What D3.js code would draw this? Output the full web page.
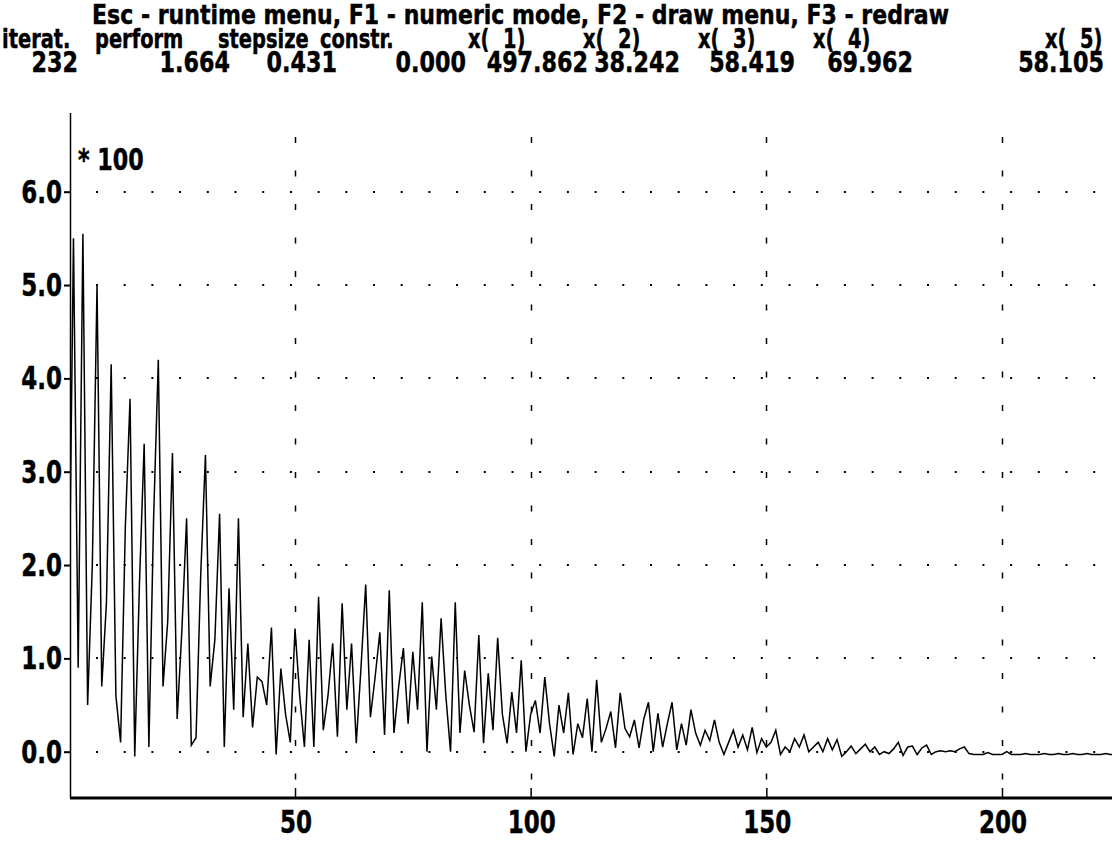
<!DOCTYPE html>
<html lang='en'>
  <head>
    <meta charset='utf-8'>
    <title>Optimization run - perform</title>
    <script src='https://d3js.org/d3.v7.min.js'></script>
    <style>
      html, body {
        margin: 0;
        padding: 0;
        background: #fff;
      }
      svg text {
        font-family: 'DejaVu Sans', 'Liberation Sans', sans-serif;
        font-weight: bold;
        fill: #000;
        stroke: #000;
        stroke-width: 0.5;
      }
    </style>
  </head>
  <body>
    <div class='vis'></div>

    <script>
      // header (status lines of the program)
      const menuLine = 'Esc - runtime menu, F1 - numeric mode, F2 - draw menu, F3 - redraw';
      const headLabels = ['iterat.', 'perform', 'stepsize', 'constr.', 'x(  1)', 'x(  2)', 'x(  3)', 'x(  4)', 'x(  5)'];
      const headValues = ['232', '1.664', '0.431', '0.000', '497.862', '38.242', '58.419', '69.962', '58.105'];

      // axis ticks
      const yTicks = [0, 1, 2, 3, 4, 5, 6];
      const xTicks = [50, 100, 150, 200];
      const yFactor = '* 100';

      // performance value per iteration (scaled by 1/100), starting at iteration 2
      const firstIteration = 2;
      const perform = [
        1.2, 5.5, 0.9, 5.55, 0.5, 2.0, 5.0, 0.7, 1.6, 4.15,
        0.6, 0.1, 2.4, 3.78, -0.05, 1.8, 3.3, 0.05, 2.5, 4.2,
        0.7, 1.4, 3.2, 0.35, 1.3, 2.5, 0.07, 0.15, 1.9, 3.18,
        0.7, 1.2, 2.55, 0.05, 1.75, 0.45, 2.5, 0.37, 1.16, 0.26,
        0.8, 0.75, 0.5, 1.33, -0.03, 0.89, 0.4, 0.1, 1.32, 0.6,
        0.05, 1.2, 0.05, 1.66, 0.23, 0.6, 1.16, 0.16, 1.59, 0.45,
        1.16, 0.09, 0.9, 1.79, 0.37, 0.8, 1.28, 0.18, 1.73, 0.2,
        0.7, 1.11, 0.3, 1.07, 0.45, 1.6, 0.0, 1.02, 0.45, 1.43,
        0.6, 0.0, 1.6, 0.2, 0.87, 0.5, 0.21, 1.25, 0.09, 0.84,
        0.23, 1.22, 0.4, 0.09, 0.64, 0.2, 0.98, 0.0, 0.4, 0.55,
        0.2, 0.8, 0.3, -0.05, 0.5, 0.2, 0.63, -0.03, 0.3, 0.15,
        0.57, 0.0, 0.77, 0.1, 0.25, 0.43, 0.04, 0.63, 0.25, 0.16,
        0.34, 0.04, 0.35, 0.53, 0.0, 0.41, 0.05, 0.3, 0.53, 0.02,
        0.3, 0.07, 0.45, 0.2, 0.07, 0.23, 0.12, 0.34, 0.1, -0.03,
        0.1, 0.23, 0.05, 0.18, 0.02, 0.26, -0.01, 0.14, 0.05, 0.1,
        0.23, -0.03, 0.05, 0.0, 0.14, 0.05, 0.18, 0.0, 0.05, 0.1,
        0.0, 0.14, 0.02, 0.13, -0.05, 0.0, 0.06, -0.02, 0.03, 0.08,
        0.0, 0.05, -0.03, 0.0, -0.02, 0.03, 0.1, -0.04, 0.05, 0.06,
        -0.03, 0.04, 0.07, -0.03, 0.0, 0.01, 0.0, 0.01, 0.0, 0.03,
        0.05, -0.02, -0.03, -0.03, -0.03, -0.01, -0.03, -0.03, -0.03, 0.0,
        -0.03, -0.03, -0.03, -0.02, -0.03, -0.03, -0.03, -0.02, -0.03, -0.03,
        -0.02, -0.03, -0.03, -0.02, -0.03, -0.03, -0.02, -0.03, -0.03, -0.03,
        -0.02, -0.03, -0.03
      ];

      // screen layout
      const width = 1112;
      const height = 842;
      const plot = {left: 70, right: 1112, top: 113, bottom: 798};

      const svg = d3.select('.vis')
        .append('svg')
          .attr('width', width)
          .attr('height', height);

      // scales
      const xScale = d3.scaleLinear()
        .domain([50, 200])
        .range([295, 1002]);
      const yScale = d3.scaleLinear()
        .domain([0, 6])
        .range([751.7, 191.7]);

      // tall, narrow screen font: squeeze horizontally
      function screenText(str, x, y, size, sx, anchor) {
        return svg.append('text')
          .attr('transform', 'translate(' + x + ',' + y + ') scale(' + sx + ',1)')
          .attr('text-anchor', anchor || 'start')
          .attr('font-size', size)
          .attr('xml:space', 'preserve')
          .text(str);
      }

      // header lines
      svg.append('text')
        .attr('x', 92)
        .attr('y', 24)
        .attr('font-size', 27)
        .attr('textLength', 857)
        .attr('lengthAdjust', 'spacingAndGlyphs')
        .attr('xml:space', 'preserve')
        .text(menuLine);
      const labelX = [2, 95, 218, 320, 468, 583, 698, 813, 1045];
      headLabels.forEach((d, i) => screenText(d, labelX[i], 48, 27, 0.72));
      const valueEnd = [78, 230, 337, 466, 588, 680, 795, 913, 1104];
      headValues.forEach((d, i) => screenText(d, valueEnd[i], 72, 28, 0.795, 'end'));

      // grid: dotted horizontal lines at y ticks
      svg.append('g')
        .selectAll('line')
        .data(yTicks).enter()
        .append('line')
          .attr('x1', 96)
          .attr('x2', plot.right)
          .attr('y1', (d) => Math.round(yScale(d)))
          .attr('y2', (d) => Math.round(yScale(d)))
          .attr('stroke', '#000')
          .attr('stroke-width', 2)
          .attr('stroke-dasharray', '2,25.7');

      // grid: dashed vertical lines at x ticks
      svg.append('g')
        .selectAll('line')
        .data(xTicks).enter()
        .append('line')
          .attr('x1', (d) => Math.round(xScale(d)) + 0.5)
          .attr('x2', (d) => Math.round(xScale(d)) + 0.5)
          .attr('y1', 137)
          .attr('y2', plot.bottom)
          .attr('stroke', '#000')
          .attr('stroke-width', 1.5)
          .attr('stroke-dasharray', '6,27.5');

      // y axis
      const yAxis = d3.axisLeft(yScale)
        .tickValues(yTicks)
        .tickSize(6)
        .tickFormat(d3.format('.1f'));
      const gy = svg.append('g')
        .attr('transform', 'translate(' + plot.left + ',0)')
        .call(yAxis);
      gy.select('.domain').remove();
      gy.selectAll('.tick line').attr('stroke', '#000').attr('stroke-width', 2);
      gy.selectAll('.tick text').remove();
      yTicks.forEach((d) => screenText(d3.format('.1f')(d), 62, yScale(d) + 11, 32, 0.72, 'end'));
      svg.append('line')
        .attr('x1', plot.left + 0.5).attr('x2', plot.left + 0.5)
        .attr('y1', plot.top).attr('y2', plot.bottom)
        .attr('stroke', '#000').attr('stroke-width', 1.5);

      screenText(yFactor, 78, 170, 30, 0.74);

      // x axis
      const xAxis = d3.axisTop(xScale)
        .tickValues(xTicks)
        .tickSize(10)
        .tickFormat('');
      const gx = svg.append('g')
        .attr('transform', 'translate(0,' + plot.bottom + ')')
        .call(xAxis);
      gx.select('.domain').remove();
      gx.selectAll('.tick line').attr('stroke', '#000').attr('stroke-width', 1.5);
      svg.append('line')
        .attr('x1', plot.left).attr('x2', plot.right)
        .attr('y1', plot.bottom).attr('y2', plot.bottom)
        .attr('stroke', '#000').attr('stroke-width', 3);
      xTicks.forEach((d) => screenText(String(d), xScale(d) + 1, 833, 32, 0.72, 'middle'));

      // performance curve
      svg.append('clipPath')
        .attr('id', 'plot-clip')
        .append('rect')
          .attr('x', plot.left)
          .attr('y', plot.top)
          .attr('width', plot.right - plot.left)
          .attr('height', plot.bottom - plot.top);

      const line = d3.line()
        .x((d, i) => xScale(firstIteration + i))
        .y((d) => yScale(d));

      svg.append('path')
        .datum(perform)
        .attr('clip-path', 'url(#plot-clip)')
        .attr('fill', 'none')
        .attr('stroke', '#000')
        .attr('stroke-width', 1.5)
        .attr('d', line);
    </script>
  </body>
</html>
